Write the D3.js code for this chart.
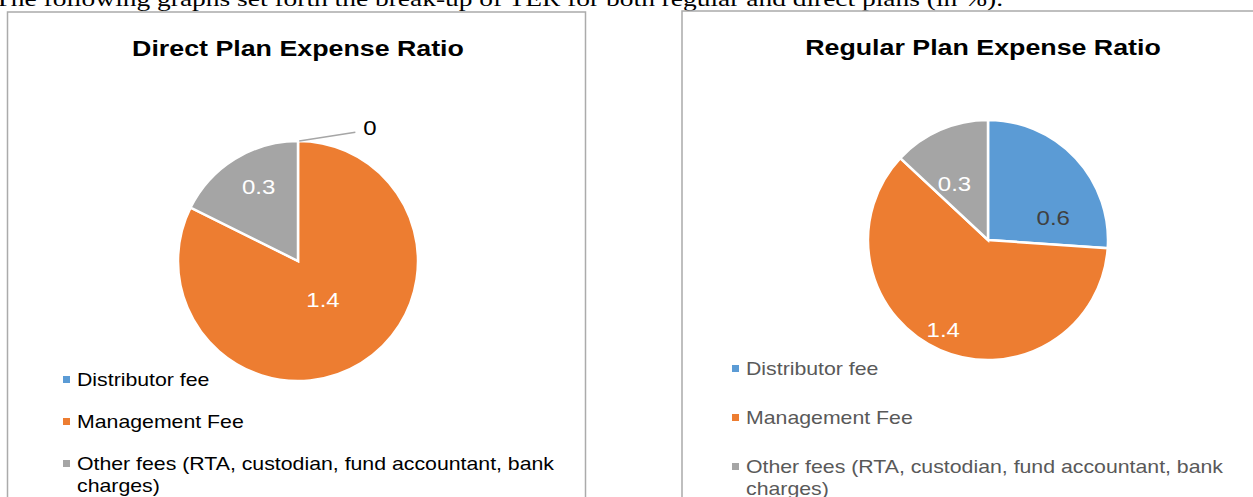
<!DOCTYPE html>
<html>
<head>
<meta charset="utf-8">
<script src="https://cdn.jsdelivr.net/npm/d3@7"></script>
<style>
  html, body { margin: 0; padding: 0; background: #fff; overflow: hidden; }
  svg { display: block; }
</style>
</head>
<body>
<svg id="chart" width="1253" height="497"></svg>
<script>
// ---------------- data ----------------
const categories = ["Distributor fee", "Management Fee", "Other fees (RTA, custodian, fund accountant, bank charges)"];
const legendLines = [["Distributor fee"], ["Management Fee"], ["Other fees (RTA, custodian, fund accountant, bank", "charges)"]];
const directValues = [0, 1.4, 0.3];
const regularValues = [0.6, 1.4, 0.3];
const chartTitles = ["Direct Plan Expense Ratio", "Regular Plan Expense Ratio"];
const introText = "The following graphs set forth the break-up of TER for both regular and direct plans (in %).";

// ---------------- layout / style ----------------
const colors = ["#5B9BD5", "#ED7D31", "#A5A5A5"];
const labelColors = ["#404040", "#ffffff", "#ffffff"];
const panels = [
  { x: 7.5, y: 12, w: 578, h: 520, cx: 298, cy: 261, r: 120, titleX: 298, titleY: 56,
    legendX: 63, legendY: 386, legendStep: 42, legendColor: "#000000",
    // data-label placement: [angle deg clockwise from 12 o'clock, distance from centre in px]
    labelPos: [null, [147, 46], [332, 84]],
    leader: { slice: 0, elbow: [24, 141], textDx: 8 } },
  { x: 682, y: 11, w: 600, h: 520, cx: 988, cy: 240, r: 120, titleX: 983, titleY: 55,
    legendX: 732, legendY: 375, legendStep: 49, legendColor: "#595959",
    labelPos: [[71, 69], [206.6, 100], [329, 65]],
    leader: null }
];
const seriesList = [directValues, regularValues];

const svg = d3.select("#chart");

function stretch(sel, sx) {
  sel.each(function () {
    const w = this.getComputedTextLength();
    this.setAttribute("textLength", w * sx);
    this.setAttribute("lengthAdjust", "spacingAndGlyphs");
  });
}

// intro text (clipped at top, as in the source page)
const intro = svg.append("text")
  .attr("x", -6).attr("y", 6)
  .attr("font-family", "Liberation Serif, Times New Roman, serif")
  .attr("font-size", 21)
  .attr("fill", "#000")
  .text(introText);
intro.attr("textLength", 1009).attr("lengthAdjust", "spacingAndGlyphs");

const pie = d3.pie().sort(null).value(d => d);

panels.forEach((p, pi) => {
  const g = svg.append("g");
  // panel border
  g.append("rect")
    .attr("x", p.x).attr("y", p.y).attr("width", p.w).attr("height", p.h)
    .attr("fill", "#fff").attr("stroke", "#ABABAB").attr("stroke-width", 1.5);

  // title
  const t = g.append("text")
    .attr("x", p.titleX).attr("y", p.titleY)
    .attr("text-anchor", "middle")
    .attr("font-family", "Liberation Sans, Arial, sans-serif")
    .attr("font-weight", "bold")
    .attr("font-size", 22.5)
    .attr("fill", "#000")
    .text(chartTitles[pi]);
  stretch(t, 1.19);

  const values = seriesList[pi];
  const arcs = pie(values);
  const arc = d3.arc().innerRadius(0).outerRadius(p.r);
  const pg = g.append("g").attr("transform", `translate(${p.cx},${p.cy})`);

  pg.selectAll("path.slice")
    .data(arcs)
    .join("path")
    .attr("class", "slice")
    .attr("d", arc)
    .attr("fill", (d, i) => colors[i])
    .attr("stroke", "#fff")
    .attr("stroke-width", 2.5)
    .attr("stroke-linejoin", "miter");

  const fmt = v => (v === 0 ? "0" : d3.format(".1f")(v));

  // data labels inside slices
  arcs.forEach((d, i) => {
    const lp = p.labelPos[i];
    if (!lp) return;
    const a = lp[0] * Math.PI / 180;
    const x = Math.sin(a) * lp[1], y = -Math.cos(a) * lp[1];
    const lt = pg.append("text")
      .attr("x", x).attr("y", y)
      .attr("dy", "0.36em")
      .attr("text-anchor", "middle")
      .attr("font-family", "Liberation Sans, Arial, sans-serif")
      .attr("font-size", 20)
      .attr("fill", labelColors[i])
      .text(fmt(values[i]));
    stretch(lt, 1.2);
  });

  // leader-line label for zero slice
  if (p.leader) {
    const d = arcs[p.leader.slice];
    const mid = (d.startAngle + d.endAngle) / 2 + 0.01;
    const sx = Math.sin(mid) * p.r, sy = -Math.cos(mid) * p.r;
    const ea = p.leader.elbow[0] * Math.PI / 180;
    const ex = Math.sin(ea) * p.leader.elbow[1], ey = -Math.cos(ea) * p.leader.elbow[1];
    pg.append("path")
      .attr("d", d3.line()([[sx, sy], [ex, ey]]))
      .attr("stroke", "#A6A6A6").attr("stroke-width", 1.5).attr("fill", "none");
    const zt = pg.append("text")
      .attr("x", ex + p.leader.textDx).attr("y", ey - 4)
      .attr("dy", "0.36em")
      .attr("font-family", "Liberation Sans, Arial, sans-serif")
      .attr("font-size", 20)
      .attr("fill", "#000")
      .text(fmt(values[p.leader.slice]));
    stretch(zt, 1.2);
  }

  // legend
  legendLines.forEach((lines, i) => {
    const by = p.legendY + i * p.legendStep;
    g.append("rect")
      .attr("x", p.legendX).attr("y", by - 10)
      .attr("width", 7).attr("height", 7)
      .attr("fill", colors[i]);
    lines.forEach((ln, li) => {
      const tt = g.append("text")
        .attr("x", p.legendX + 14).attr("y", by + li * 22)
        .attr("font-family", "Liberation Sans, Arial, sans-serif")
        .attr("font-size", 18.5)
        .attr("fill", p.legendColor)
        .text(ln);
      stretch(tt, 1.15);
    });
  });
});
</script>
</body>
</html>
